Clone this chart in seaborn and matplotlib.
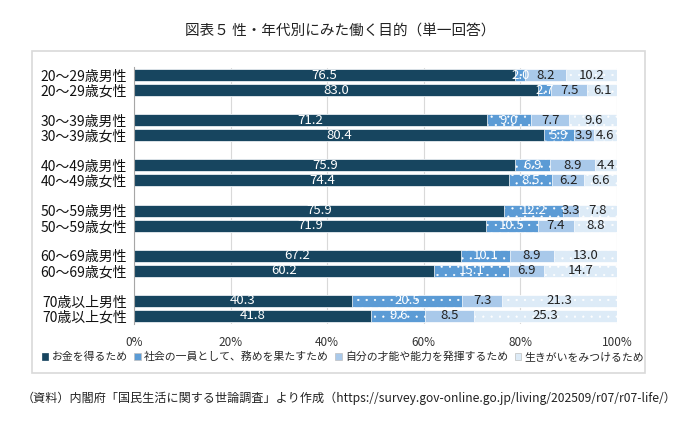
import matplotlib
matplotlib.use("Agg")
import matplotlib.pyplot as plt
import seaborn as sns
import pandas as pd
import numpy as np
from matplotlib.patches import Rectangle, Patch

groups = ["20～29歳男性", "20～29歳女性", "30～39歳男性", "30～39歳女性",
          "40～49歳男性", "40～49歳女性", "50～59歳男性", "50～59歳女性",
          "60～69歳男性", "60～69歳女性", "70歳以上男性", "70歳以上女性"]
money = [76.5, 83.0, 71.2, 80.4, 75.9, 74.4, 75.9, 71.9, 67.2, 60.2, 40.3, 41.8]
society = [2.0, 2.7, 9.0, 5.9, 6.9, 8.5, 12.2, 10.5, 10.1, 15.1, 20.5, 9.6]
talent = [8.2, 7.5, 7.7, 3.9, 8.9, 6.2, 3.3, 7.4, 8.9, 6.9, 7.3, 8.5]
purpose = [10.2, 6.1, 9.6, 4.6, 4.4, 6.6, 7.8, 8.8, 13.0, 14.7, 21.3, 25.3]
series_names = ["お金を得るため", "社会の一員として、務めを果たすため",
                "自分の才能や能力を発揮するため", "生きがいをみつけるため"]
xticks = [0, 20, 40, 60, 80, 100]

colors = ["#17455f", "#5b9bd5", "#a9c9ea", "#ddebf7"]
hatches = [None, "..", None, ".."]
text_colors = ["white", "white", "#222222", "#222222"]

sns.set_theme(style="white")
plt.rcParams["font.family"] = ["Noto Sans CJK JP", "DejaVu Sans"]
plt.rcParams["hatch.linewidth"] = 0.35

df = pd.DataFrame({"group": groups, "s0": money, "s1": society, "s2": talent, "s3": purpose})
tot = df[["s0", "s1", "s2", "s3"]].sum(axis=1)
for i in range(4):
    df[f"p{i}"] = df[f"s{i}"] / tot * 100
df["c0"] = df["p0"]
for i in range(1, 4):
    df[f"c{i}"] = df[f"c{i-1}"] + df[f"p{i}"]

# category order with blank slots between age pairs
order = []
blank = 0
for k in range(0, len(groups), 2):
    if k > 0:
        blank += 1
        order.append(" " * blank)
    order += [groups[k], groups[k + 1]]

fig = plt.figure(figsize=(6.8, 4.21), dpi=100)
ax = fig.add_axes([134 / 680, 1 - 323.5 / 421, (617 - 134) / 680, (323.5 - 67.5) / 421])

for i in [3, 2, 1, 0]:
    n0 = len(ax.patches)
    sns.barplot(data=df, x=f"c{i}", y="group", order=order, orient="h",
                color=colors[i], width=0.8, ax=ax, saturation=1,
                edgecolor="white", linewidth=0.5, errorbar=None)
    for p in ax.patches[n0:]:
        p.set_facecolor(colors[i])
        if hatches[i]:
            p.set_hatch(hatches[i])

# value labels
pos = {g: order.index(g) for g in groups}
for _, r in df.iterrows():
    y = pos[r["group"]]
    for i in range(4):
        start = r[f"c{i}"] - r[f"p{i}"]
        ax.text(start + r[f"p{i}"] / 2, y, f"{r[f's{i}']:.1f}", ha="center", va="center",
                fontsize=9.5, color=text_colors[i], family=["Noto Sans CJK JP", "DejaVu Sans"])

ax.set_xlim(0, 100)
ax.set_ylim(len(order) - 0.5, -0.5)
ax.set_xticks(xticks)
ax.set_xticklabels([f"{t}%" for t in xticks], fontsize=8.5, color="#333333")
ax.tick_params(axis="y", labelsize=10, colors="#111111", length=0, pad=5)
ax.tick_params(axis="x", length=0, pad=9)
ax.set_xlabel("")
ax.set_ylabel("")
ax.xaxis.grid(True, color="#d9d9d9", linewidth=0.8)
ax.set_axisbelow(True)
for s in ["top", "right"]:
    ax.spines[s].set_visible(False)
ax.spines["bottom"].set_visible(False)
ax.spines["left"].set_color("#a6a6a6")
ax.spines["left"].set_linewidth(0.8)

# legend
handles = [Patch(facecolor=colors[i], edgecolor="#bfbfbf" if i > 0 else colors[i],
                 linewidth=0.5, label=series_names[i]) for i in range(4)]
fig.legend(handles=handles, loc="center", bbox_to_anchor=(343 / 680, 1 - 357 / 421),
           ncol=4, frameon=False, fontsize=7.8, handlelength=0.6, handleheight=0.6,
           handletextpad=0.3, columnspacing=0.6, borderaxespad=0)

# frame
fig.patches.append(Rectangle((32 / 680, 1 - 373 / 421), (645 - 32) / 680, (373 - 51) / 421,
                             transform=fig.transFigure, fill=False, edgecolor="#d9d9d9",
                             linewidth=1.2))

fig.text(340 / 680, 1 - 31 / 421, "図表５ 性・年代別にみた働く目的（単一回答）",
         ha="center", va="center", fontsize=10.5, color="#222222")
fig.text(22 / 680, 1 - 398 / 421,
         "（資料）内閣府「国民生活に関する世論調査」より作成（https://survey.gov-online.go.jp/living/202509/r07/r07-life/）",
         ha="left", va="center", fontsize=8.7, color="#222222")

fig.savefig("out.png", dpi=100)
